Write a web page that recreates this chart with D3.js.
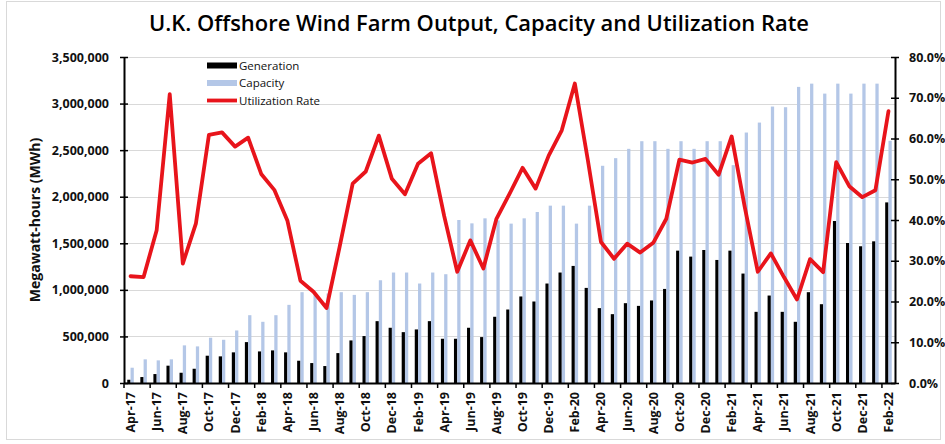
<!DOCTYPE html>
<html>
<head>
<meta charset="utf-8">
<script src="https://cdn.jsdelivr.net/npm/d3@7"></script>
<style>
  html, body { margin: 0; padding: 0; background: #fff; }
  svg { display: block; font-family: "Open Sans", "Liberation Sans", sans-serif; }
</style>
</head>
<body>
<svg id="chart" width="945" height="444"></svg>
<script>
// Monthly offshore wind: generation and capacity (MWh) and utilization rate
const months = [
  "Apr-17","May-17","Jun-17","Jul-17","Aug-17","Sep-17","Oct-17","Nov-17","Dec-17",
  "Jan-18","Feb-18","Mar-18","Apr-18","May-18","Jun-18","Jul-18","Aug-18","Sep-18","Oct-18","Nov-18","Dec-18",
  "Jan-19","Feb-19","Mar-19","Apr-19","May-19","Jun-19","Jul-19","Aug-19","Sep-19","Oct-19","Nov-19","Dec-19",
  "Jan-20","Feb-20","Mar-20","Apr-20","May-20","Jun-20","Jul-20","Aug-20","Sep-20","Oct-20","Nov-20","Dec-20",
  "Jan-21","Feb-21","Mar-21","Apr-21","May-21","Jun-21","Jul-21","Aug-21","Sep-21","Oct-21","Nov-21","Dec-21",
  "Jan-22","Feb-22"
];

const generation = [
  35000, 64000, 96000, 186000, 110000, 153000, 293000, 286000, 329000,
  439000, 339000, 350000, 329000, 239000, 214000, 182000, 321000, 457000, 504000, 664000, 593000,
  546000, 575000, 664000, 475000, 475000, 593000, 493000, 711000, 789000, 929000, 875000, 1068000,
  1186000, 1257000, 1021000, 804000, 739000, 857000, 828000, 886000, 1010000, 1421000, 1357000, 1428000,
  1321000, 1421000, 1175000, 764000, 939000, 764000, 657000, 975000, 846000, 1739000, 1503000, 1468000,
  1521000, 1939000
];

const capacity = [
  164000, 254000, 243000, 254000, 404000, 393000, 486000, 464000, 564000,
  728000, 657000, 728000, 839000, 975000, 944000, 961000, 975000, 946000, 975000, 1103000, 1186000,
  1186000, 1068000, 1186000, 1168000, 1750000, 1714000, 1768000, 1746000, 1711000, 1768000, 1836000, 1904000,
  1904000, 1711000, 1904000, 2332000, 2414000, 2514000, 2596000, 2596000, 2514000, 2596000, 2514000, 2596000,
  2596000, 2339000, 2689000, 2796000, 2968000, 2961000, 3179000, 3214000, 3107000, 3214000, 3107000, 3214000,
  3214000, 2600000
];

const utilization = [
  0.262, 0.260, 0.375, 0.709, 0.293, 0.391, 0.609, 0.615, 0.580,
  0.602, 0.513, 0.474, 0.399, 0.251, 0.224, 0.184, 0.334, 0.489, 0.519, 0.607, 0.501,
  0.463, 0.538, 0.564, 0.410, 0.273, 0.350, 0.281, 0.403, 0.464, 0.528, 0.477, 0.558,
  0.620, 0.735, 0.546, 0.346, 0.305, 0.342, 0.320, 0.344, 0.403, 0.548, 0.541, 0.550,
  0.511, 0.605, 0.432, 0.273, 0.318, 0.260, 0.205, 0.304, 0.272, 0.542, 0.483, 0.456,
  0.473, 0.667
];

const leftTicks = [0, 500000, 1000000, 1500000, 2000000, 2500000, 3000000, 3500000];
const rightTicks = [0, 0.1, 0.2, 0.3, 0.4, 0.5, 0.6, 0.7, 0.8];
const seriesNames = ["Generation", "Capacity", "Utilization Rate"];

const colors = { gen: "#000000", cap: "#b4c7e7", util: "#e8141b", grid: "#d9d9d9" };

const svg = d3.select("#chart");
const W = 945, H = 444;
const plot = { left: 124, right: 895, top: 57, bottom: 383 };

// outer chart frame
svg.append("rect")
  .attr("x", 6.5).attr("y", 1.5).attr("width", W - 11).attr("height", H - 6)
  .attr("fill", "#fff").attr("stroke", "#d9d9d9").attr("stroke-width", 1);

// title
svg.append("text")
  .attr("x", 479).attr("y", 31)
  .attr("text-anchor", "middle")
  .attr("font-size", 21).attr("font-weight", 600).attr("fill", "#000")
  .attr("textLength", 660).attr("lengthAdjust", "spacingAndGlyphs")
  .text("U.K. Offshore Wind Farm Output, Capacity and Utilization Rate");

// scales
const x0 = d3.scaleBand().domain(months).range([plot.left, plot.right])
  .paddingInner(0.5).paddingOuter(0.25);
const x1 = d3.scaleBand().domain(["gen", "cap"]).range([0, x0.bandwidth()]);
const yL = d3.scaleLinear().domain([0, 3500000]).range([plot.bottom, plot.top]);
const yR = d3.scaleLinear().domain([0, 0.8]).range([plot.bottom, plot.top]);

// gridlines
svg.append("g").selectAll("line").data(leftTicks.slice(1)).join("line")
  .attr("x1", plot.left).attr("x2", plot.right)
  .attr("y1", d => Math.round(yL(d)) + 0.5).attr("y2", d => Math.round(yL(d)) + 0.5)
  .attr("stroke", colors.grid).attr("stroke-width", 1);

// bars
const rows = months.map((m, i) => ({ m, gen: generation[i], cap: capacity[i], util: utilization[i] }));
const groups = svg.append("g").selectAll("g").data(rows).join("g")
  .attr("transform", d => `translate(${x0(d.m)},0)`);
groups.append("rect")
  .attr("x", x1("gen")).attr("width", x1.bandwidth())
  .attr("y", d => yL(d.gen)).attr("height", d => yL(0) - yL(d.gen))
  .attr("fill", colors.gen);
groups.append("rect")
  .attr("x", x1("cap")).attr("width", x1.bandwidth())
  .attr("y", d => yL(d.cap)).attr("height", d => yL(0) - yL(d.cap))
  .attr("fill", colors.cap);

// utilization line
const line = d3.line()
  .x(d => x0(d.m) + x0.bandwidth() / 2)
  .y(d => yR(d.util));
svg.append("path").datum(rows)
  .attr("d", line)
  .attr("fill", "none").attr("stroke", colors.util)
  .attr("stroke-width", 3.8).attr("stroke-linejoin", "round").attr("stroke-linecap", "round");

// left axis
const axL = svg.append("g").attr("transform", `translate(${plot.left},0)`)
  .call(d3.axisLeft(yL).tickValues(leftTicks).tickSize(4).tickSizeOuter(0).tickPadding(11)
    .tickFormat(d3.format(",")));
axL.select(".domain").attr("stroke", "#000").attr("stroke-width", 2);
axL.selectAll(".tick line").attr("x1", 4).attr("stroke", "#000").attr("stroke-width", 1.5);
axL.selectAll(".tick text").attr("font-size", 12.5).attr("font-weight", 700).attr("fill", "#111")
  .attr("font-family", "Open Sans, sans-serif");

// right axis
const axR = svg.append("g").attr("transform", `translate(${plot.right},0)`)
  .call(d3.axisRight(yR).tickValues(rightTicks).tickSize(4).tickSizeOuter(0).tickPadding(10)
    .tickFormat(d3.format(".1%")));
axR.select(".domain").attr("stroke", "#000").attr("stroke-width", 2);
axR.selectAll(".tick line").attr("x1", -4).attr("stroke", "#000").attr("stroke-width", 1.5);
axR.selectAll(".tick text").attr("font-size", 12.5).attr("font-weight", 700).attr("fill", "#111")
  .attr("font-family", "Open Sans, sans-serif");

// bottom axis: labels on every other month, tick marks at band boundaries
const labelMonths = months.filter((m, i) => i % 2 === 0);
const axB = svg.append("g").attr("transform", `translate(0,${plot.bottom})`)
  .call(d3.axisBottom(x0).tickValues(labelMonths).tickSize(0).tickSizeOuter(0));
axB.select(".domain").attr("stroke", "#000").attr("stroke-width", 2);
axB.selectAll(".tick text")
  .attr("transform", "rotate(-90)")
  .attr("x", -9).attr("y", 0).attr("dy", "0.36em")
  .style("text-anchor", "end")
  .attr("font-size", 12.5).attr("font-weight", 700).attr("fill", "#111")
  .attr("font-family", "Open Sans, sans-serif");
const step = x0.step();
svg.append("g").selectAll("line").data(labelMonths).join("line")
  .attr("x1", d => x0(d) - step * 0.25).attr("x2", d => x0(d) - step * 0.25)
  .attr("y1", plot.bottom).attr("y2", plot.bottom + 5)
  .attr("stroke", "#000").attr("stroke-width", 1.5);

// y axis title
svg.append("text")
  .attr("transform", `translate(40,${(plot.top + plot.bottom) / 2}) rotate(-90)`)
  .attr("text-anchor", "middle")
  .attr("font-size", 14).attr("font-weight", 700).attr("fill", "#111")
  .text("Megawatt-hours (MWh)");

// legend
const lg = svg.append("g").attr("transform", "translate(207,0)");
lg.append("rect").attr("x", 0).attr("y", 62.5).attr("width", 30).attr("height", 6).attr("fill", colors.gen);
lg.append("rect").attr("x", 0).attr("y", 80).attr("width", 30).attr("height", 6).attr("fill", colors.cap);
lg.append("line").attr("x1", 0).attr("x2", 30).attr("y1", 100.5).attr("y2", 100.5)
  .attr("stroke", colors.util).attr("stroke-width", 3.8);
lg.selectAll("text").data(seriesNames).join("text")
  .attr("x", 32).attr("y", (d, i) => [65.5, 83, 100.5][i]).attr("dy", "0.35em")
  .attr("font-size", 11.5).attr("fill", "#111")
  .text(d => d);
</script>
</body>
</html>
